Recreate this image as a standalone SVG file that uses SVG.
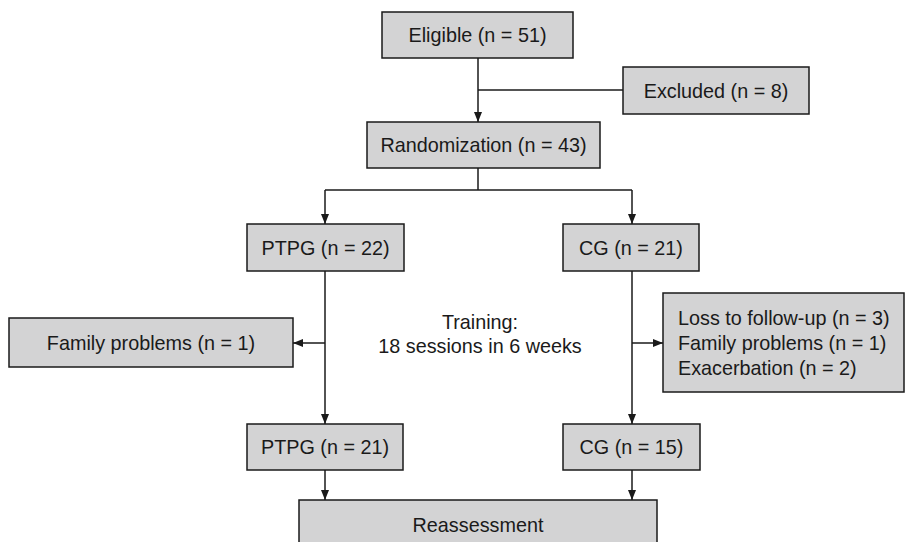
<svg xmlns="http://www.w3.org/2000/svg" width="905" height="542" viewBox="0 0 905 542">
<defs>
<marker id="ah" markerWidth="10" markerHeight="8" refX="10" refY="4" orient="auto" markerUnits="userSpaceOnUse">
<path d="M0,0 L10,4 L0,8 Z" fill="#1a1a1a"/>
</marker>
<style>
.box{fill:#d3d3d4;stroke:#1a1a1a;stroke-width:1.5}
.t{font-family:"Liberation Sans",Arial,sans-serif;font-size:19.8px;fill:#1a1a1a}
.c{text-anchor:middle;dominant-baseline:central}
.ln{fill:none;stroke:#1a1a1a;stroke-width:1.5}
</style>
</defs>
<rect width="905" height="542" fill="#ffffff"/>
<g id="connectors">
<line class="ln" x1="478" y1="58" x2="478" y2="122" marker-end="url(#ah)"/>
<line class="ln" x1="478" y1="90" x2="623" y2="90"/>
<line class="ln" x1="478" y1="168" x2="478" y2="190"/>
<line class="ln" x1="325" y1="190" x2="632" y2="190"/>
<line class="ln" x1="325" y1="190" x2="325" y2="224" marker-end="url(#ah)"/>
<line class="ln" x1="632" y1="190" x2="632" y2="224" marker-end="url(#ah)"/>
<line class="ln" x1="325" y1="271" x2="325" y2="424" marker-end="url(#ah)"/>
<line class="ln" x1="325" y1="343" x2="293" y2="343" marker-end="url(#ah)"/>
<line class="ln" x1="632" y1="271" x2="632" y2="424" marker-end="url(#ah)"/>
<line class="ln" x1="632" y1="343" x2="663" y2="343" marker-end="url(#ah)"/>
<line class="ln" x1="325" y1="470" x2="325" y2="500" marker-end="url(#ah)"/>
<line class="ln" x1="632" y1="470" x2="632" y2="500" marker-end="url(#ah)"/>
</g>
<g id="eligible"><rect class="box" x="382" y="12" width="191" height="46"/><text class="t c" x="477.5" y="35">Eligible (n = 51)</text></g>
<g id="excluded"><rect class="box" x="623" y="67" width="186" height="47"/><text class="t c" x="716" y="90.5">Excluded (n = 8)</text></g>
<g id="randomization"><rect class="box" x="367" y="122" width="233" height="46"/><text class="t c" x="483.5" y="145">Randomization (n = 43)</text></g>
<g id="ptpg1"><rect class="box" x="247" y="224" width="157" height="47"/><text class="t c" x="325.5" y="247.5">PTPG (n = 22)</text></g>
<g id="cg1"><rect class="box" x="563" y="224" width="136" height="47"/><text class="t c" x="631" y="247.5">CG (n = 21)</text></g>
<g id="family"><rect class="box" x="9" y="318" width="284" height="49"/><text class="t c" x="151" y="342.5">Family problems (n = 1)</text></g>
<g id="training"><text class="t" text-anchor="middle" x="480" y="329">Training:</text><text class="t" text-anchor="middle" x="480" y="353">18 sessions in 6 weeks</text></g>
<g id="cglosses"><rect class="box" x="663" y="293" width="241" height="99"/>
<text class="t" x="678" y="325">Loss to follow-up (n = 3)</text>
<text class="t" x="678" y="350">Family problems (n = 1)</text>
<text class="t" x="678" y="375">Exacerbation (n = 2)</text></g>
<g id="ptpg2"><rect class="box" x="247" y="424" width="156" height="46"/><text class="t c" x="325" y="447">PTPG (n = 21)</text></g>
<g id="cg2"><rect class="box" x="563" y="424" width="137" height="46"/><text class="t c" x="631.5" y="447">CG (n = 15)</text></g>
<g id="reassessment"><rect class="box" x="299" y="500" width="358" height="60"/><text class="t c" x="478" y="525">Reassessment</text></g>
</svg>
